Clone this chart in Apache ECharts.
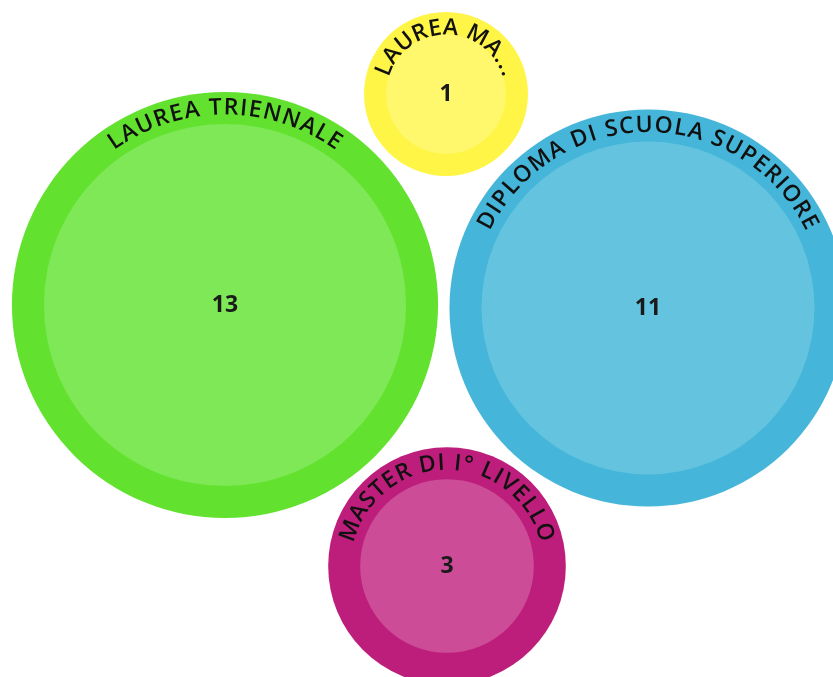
<!DOCTYPE html>
<html>
<head>
<meta charset="utf-8">
<script src="https://cdn.jsdelivr.net/npm/echarts@6/dist/echarts.min.js"></script>
<style>
html,body{margin:0;padding:0;background:#fff;}
#chart{width:833px;height:677px;}
</style>
</head>
<body>
<div id="chart"></div>
<script>
// ---- data ----
const categories = ['LAUREA TRIENNALE', 'DIPLOMA DI SCUOLA SUPERIORE', 'LAUREA MA...', 'MASTER DI I° LIVELLO'];
const values = [13, 11, 1, 3];
// ---- packed-bubble layout (centres, in layout units) ----
const layoutX = [225, 648, 446, 447];
const layoutY = [305, 308, 94, 566];
// ---- styles ----
const outerColors = ['#62E22F', '#45B6D9', '#FFF547', '#BE1E7B'];
const innerColors = ['#7EE857', '#64C4E0', '#FFF86C', '#CC4C98'];

function radiusOf(v) { return 31.7 + 50.3 * Math.sqrt(v); }
const RING = 32;
const FONT = '600 23px "Open Sans"';
const measureCtx = document.createElement('canvas').getContext('2d');
measureCtx.font = FONT;
const LETTER_SPACING = 1.8;

const chart = echarts.init(document.getElementById('chart'));
const data = values.map((v, i) => [layoutX[i], layoutY[i], v, i]);

function renderItem(params, api) {
  const idx = api.value(3);
  const v = api.value(2);
  const c = api.coord([api.value(0), api.value(1)]);
  const r = radiusOf(v);
  const ringW = Math.min(RING, r * 0.27);
  const children = [
    { type: 'circle', shape: { cx: c[0], cy: c[1], r: r }, style: { fill: outerColors[idx] } },
    { type: 'circle', shape: { cx: c[0], cy: c[1], r: r - ringW }, style: { fill: innerColors[idx] } },
    { type: 'text', x: c[0], y: c[1], style: { text: String(v), align: 'center', verticalAlign: 'middle', font: 'bold 23px "Open Sans"', fill: '#1a1a1a' } }
  ];
  // curved label along top arc
  const label = categories[idx];
  const R = r - 16;
  const widths = [];
  let total = 0;
  for (const ch of label) {
    const w = measureCtx.measureText(ch).width + LETTER_SPACING;
    widths.push(w);
    total += w;
  }
  let acc = -total / 2;
  let k = 0;
  for (const ch of label) {
    const w = widths[k++];
    const mid = acc + w / 2;
    acc += w;
    if (ch === ' ') continue;
    const th = mid / R;
    children.push({
      type: 'text',
      x: c[0] + R * Math.sin(th),
      y: c[1] - R * Math.cos(th),
      rotation: -th,
      style: { text: ch, align: 'center', verticalAlign: 'middle', font: FONT, fill: '#111' }
    });
  }
  return { type: 'group', children: children };
}

chart.setOption({
  animation: false,
  grid: { left: 0, right: 0, top: 0, bottom: 0 },
  xAxis: { type: 'value', min: 0, max: 833, show: false },
  yAxis: { type: 'value', min: 0, max: 677, inverse: true, show: false },
  series: [{
    type: 'custom',
    renderItem: renderItem,
    data: data,
    clip: false
  }]
});
</script>
</body>
</html>
